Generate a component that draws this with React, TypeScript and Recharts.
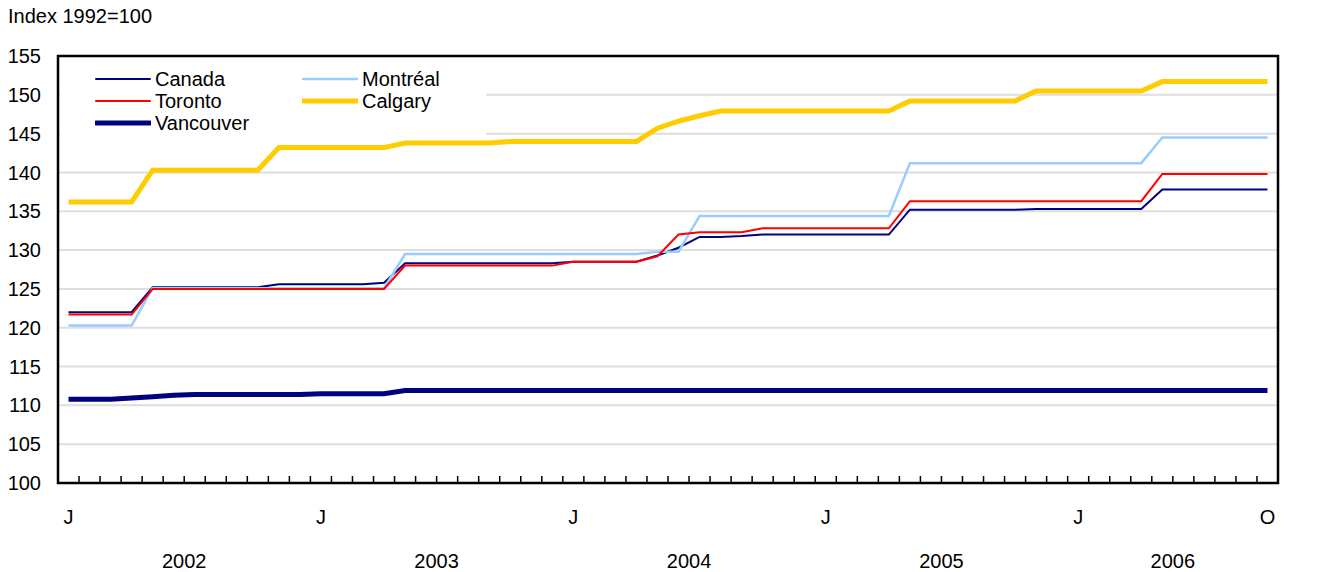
import React from 'react';
import { LineChart, Line, XAxis, YAxis, CartesianGrid, ReferenceArea, Legend } from 'recharts';

// Monthly index, Jan 2002 to Oct 2006 (58 months)
const canada = [
  122.0, 122.0, 122.0, 122.0, 125.2, 125.2, 125.2, 125.2, 125.2, 125.2, 125.6, 125.6,
  125.6, 125.6, 125.6, 125.8, 128.3, 128.3, 128.3, 128.3, 128.3, 128.3, 128.3, 128.3,
  128.5, 128.5, 128.5, 128.5, 129.3, 130.3, 131.7, 131.7, 131.8, 132.0, 132.0, 132.0,
  132.0, 132.0, 132.0, 132.0, 135.2, 135.2, 135.2, 135.2, 135.2, 135.2, 135.3, 135.3,
  135.3, 135.3, 135.3, 135.3, 137.8, 137.8, 137.8, 137.8, 137.8, 137.8,
];
const montreal = [
  120.3, 120.3, 120.3, 120.3, 125.1, 125.1, 125.1, 125.1, 125.1, 125.1, 125.1, 125.1,
  125.1, 125.1, 125.1, 125.1, 129.5, 129.5, 129.5, 129.5, 129.5, 129.5, 129.5, 129.5,
  129.5, 129.5, 129.5, 129.5, 129.8, 129.8, 134.4, 134.4, 134.4, 134.4, 134.4, 134.4,
  134.4, 134.4, 134.4, 134.4, 141.2, 141.2, 141.2, 141.2, 141.2, 141.2, 141.2, 141.2,
  141.2, 141.2, 141.2, 141.2, 144.5, 144.5, 144.5, 144.5, 144.5, 144.5,
];
const toronto = [
  121.7, 121.7, 121.7, 121.7, 125.0, 125.0, 125.0, 125.0, 125.0, 125.0, 125.0, 125.0,
  125.0, 125.0, 125.0, 125.0, 128.0, 128.0, 128.0, 128.0, 128.0, 128.0, 128.0, 128.0,
  128.5, 128.5, 128.5, 128.5, 129.2, 132.0, 132.3, 132.3, 132.3, 132.8, 132.8, 132.8,
  132.8, 132.8, 132.8, 132.8, 136.3, 136.3, 136.3, 136.3, 136.3, 136.3, 136.3, 136.3,
  136.3, 136.3, 136.3, 136.3, 139.8, 139.8, 139.8, 139.8, 139.8, 139.8,
];
const calgary = [
  136.2, 136.2, 136.2, 136.2, 140.3, 140.3, 140.3, 140.3, 140.3, 140.3, 143.2, 143.2,
  143.2, 143.2, 143.2, 143.2, 143.8, 143.8, 143.8, 143.8, 143.8, 144.0, 144.0, 144.0,
  144.0, 144.0, 144.0, 144.0, 145.7, 146.6, 147.3, 147.9, 147.9, 147.9, 147.9, 147.9,
  147.9, 147.9, 147.9, 147.9, 149.2, 149.2, 149.2, 149.2, 149.2, 149.2, 150.5, 150.5,
  150.5, 150.5, 150.5, 150.5, 151.7, 151.7, 151.7, 151.7, 151.7, 151.7,
];
const vancouver = [
  110.8, 110.8, 110.8, 110.95, 111.1, 111.3, 111.4, 111.4, 111.4, 111.4, 111.4, 111.4,
  111.5, 111.5, 111.5, 111.5, 111.9, 111.9, 111.9, 111.9, 111.9, 111.9, 111.9, 111.9,
  111.9, 111.9, 111.9, 111.9, 111.9, 111.9, 111.9, 111.9, 111.9, 111.9, 111.9, 111.9,
  111.9, 111.9, 111.9, 111.9, 111.9, 111.9, 111.9, 111.9, 111.9, 111.9, 111.9, 111.9,
  111.9, 111.9, 111.9, 111.9, 111.9, 111.9, 111.9, 111.9, 111.9, 111.9,
];

const monthTicks = [0, 12, 24, 36, 48, 57];
const monthLabels = ['J', 'J', 'J', 'J', 'J', 'O'];
const years = ['2002', '2003', '2004', '2005', '2006'];
const yearCenters = [5.5, 17.5, 29.5, 41.5, 52.5];
const yTicks = [100, 105, 110, 115, 120, 125, 130, 135, 140, 145, 150, 155];

const series = [
  { key: 'canada', name: 'Canada', color: '#000080', width: 2 },
  { key: 'montreal', name: 'Montréal', color: '#99ccff', width: 2.5 },
  { key: 'toronto', name: 'Toronto', color: '#ff0000', width: 2 },
  { key: 'calgary', name: 'Calgary', color: '#ffcc00', width: 5 },
  { key: 'vancouver', name: 'Vancouver', color: '#000080', width: 5 },
];

const data = canada.map((v, i) => ({
  i,
  canada: v,
  montreal: montreal[i],
  toronto: toronto[i],
  calgary: calgary[i],
  vancouver: vancouver[i],
}));

// boundaries between months, for the little inside tick marks
const boundaries = data.slice(1).map((d) => d.i - 0.5);

const FONT = '"Liberation Sans", Arial, sans-serif';
const FS = 20;

const LegendBox = () => {
  // same order as the original: row by row, two columns
  const order = ['canada', 'montreal', 'toronto', 'calgary', 'vancouver'];
  return (
    <div
      style={{
        background: '#fff',
        width: 426,
        height: 80,
        paddingTop: 8,
        boxSizing: 'border-box',
        display: 'grid',
        gridTemplateColumns: '207px 219px',
        gridAutoRows: '22px',
        fontFamily: FONT,
        fontSize: FS,
        color: '#000',
      }}
    >
      {order.map((k) => {
        const s = series.find((x) => x.key === k)!;
        return (
          <div key={k} style={{ display: 'flex', alignItems: 'center', paddingLeft: 35, lineHeight: '22px' }}>
            <svg width={56} height={10} style={{ flex: 'none' }}>
              <line x1={1} y1={5} x2={55} y2={5} stroke={s.color} strokeWidth={s.width} strokeLinecap="round" />
            </svg>
            <span style={{ marginLeft: 4, whiteSpace: 'nowrap' }}>{s.name}</span>
          </div>
        );
      })}
    </div>
  );
};

export default function App() {
  const tickStyle = { fill: '#000', fontSize: FS, fontFamily: FONT };
  return (
    <div style={{ position: 'absolute', left: 0, top: 0, width: 1343, height: 572, background: '#fff' }}>
      <div style={{ position: 'absolute', left: 8, top: 5, fontFamily: FONT, fontSize: 20, color: '#000' }}>
        Index 1992=100
      </div>
      <LineChart width={1343} height={572} data={data} margin={{ top: 56, right: 0, bottom: 0, left: 0 }}>
        <CartesianGrid
          xAxisId="x"
          yAxisId="l"
          vertical={false}
          stroke="#dedede"
          strokeWidth={2}
          horizontalValues={yTicks.slice(1, -1)}
        />
        <XAxis
          xAxisId="x"
          dataKey="i"
          type="number"
          domain={[-0.5, 57.5]}
          ticks={boundaries}
          interval={0}
          height={1}
          mirror
          axisLine={false}
          tickSize={7}
          tickLine={{ stroke: '#000', strokeWidth: 1.5 }}
          tickFormatter={() => ''}
        />
        <XAxis
          xAxisId="lab"
          dataKey="i"
          type="number"
          domain={[-0.5, 57.5]}
          allowDataOverflow
          ticks={monthTicks}
          interval={0}
          height={45}
          axisLine={false}
          tickLine={false}
          tickMargin={21}
          tick={tickStyle}
          tickFormatter={(v: number) => monthLabels[monthTicks.indexOf(v)] ?? ''}
        />
        <XAxis
          xAxisId="yr"
          dataKey="i"
          type="number"
          domain={[-0.5, 57.5]}
          allowDataOverflow
          ticks={yearCenters}
          interval={0}
          height={44}
          axisLine={false}
          tickLine={false}
          tickMargin={20}
          tick={tickStyle}
          tickFormatter={(v: number) => years[yearCenters.indexOf(v)] ?? ''}
        />
        <YAxis
          yAxisId="l"
          domain={[100, 155]}
          ticks={yTicks}
          interval={0}
          width={58}
          axisLine={false}
          tickLine={false}
          tickSize={6}
          tickMargin={11}
          tick={tickStyle}
        />
        <YAxis
          yAxisId="r"
          orientation="right"
          domain={[100, 155]}
          ticks={yTicks}
          interval={0}
          width={65}
          axisLine={false}
          tickLine={false}
          tickSize={6}
          tickMargin={18}
          tick={tickStyle}
        />
        <Legend
          layout="vertical"
          align="center"
          verticalAlign="middle"
          content={() => <LegendBox />}
          wrapperStyle={{ left: 60, top: 60, width: 426, height: 80 }}
        />
        {series.map((s) => (
          <Line
            key={s.key}
            xAxisId="x"
            yAxisId="l"
            type="linear"
            dataKey={s.key}
            name={s.name}
            stroke={s.color}
            strokeWidth={s.width}
            dot={false}
            activeDot={false}
            isAnimationActive={false}
          />
        ))}
        <ReferenceArea
          xAxisId="x"
          yAxisId="l"
          x1={-0.5}
          x2={57.5}
          y1={100}
          y2={155}
          fill="none"
          stroke="#000"
          strokeWidth={2.5}
          ifOverflow="visible"
        />
      </LineChart>
    </div>
  );
}
